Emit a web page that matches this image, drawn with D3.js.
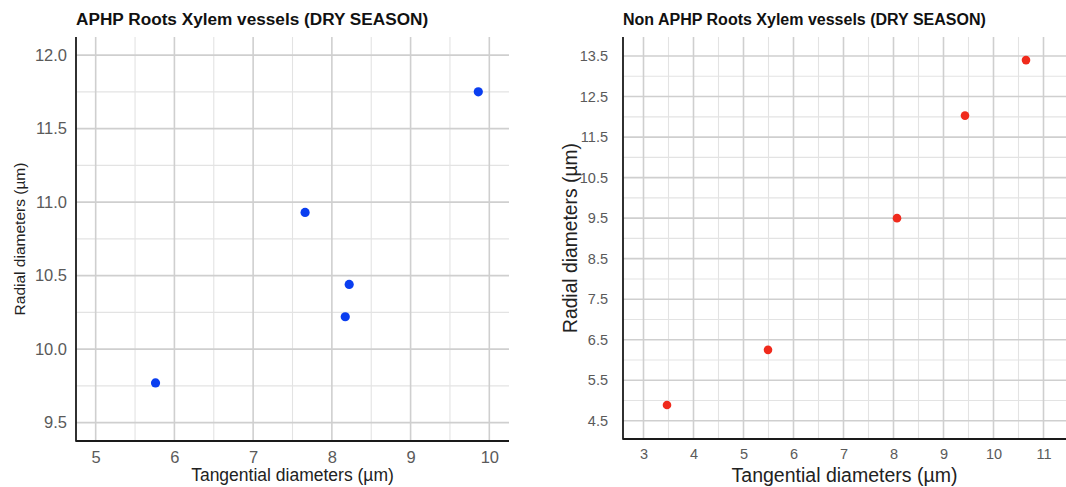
<!DOCTYPE html>
<html lang="en">
<head>
<meta charset="utf-8">
<title>Roots Xylem vessels (DRY SEASON)</title>
<script src="https://d3js.org/d3.v7.min.js"></script>
<style>
  body{margin:0;background:#fff;font-family:"Liberation Sans",Arial,sans-serif;}
  .tick text{fill:#5a5a5a;}
</style>
</head>
<body>
<div id="chart"></div>
<script>
// APHP panel data (tangential, radial)
var aphpTangential = [5.76, 7.66, 8.22, 8.17, 9.86]
var aphpRadial     = [9.77, 10.93, 10.44, 10.22, 11.75]
var aphpXTicks = [5, 6, 7, 8, 9, 10]
var aphpYTicks = [9.5, 10.0, 10.5, 11.0, 11.5, 12.0]

// Non APHP panel data
var nonTangential = [3.47, 5.49, 8.07, 9.43, 10.65]
var nonRadial     = [4.89, 6.25, 9.50, 12.03, 13.40]
var nonXTicks = [3, 4, 5, 6, 7, 8, 9, 10, 11]
var nonYTicks = [4.5, 5.5, 6.5, 7.5, 8.5, 9.5, 10.5, 11.5, 12.5, 13.5]

var W = 1066, H = 487
var svg = d3.select("#chart").append("svg").attr("width", W).attr("height", H)

var panels = [
  {title:"APHP Roots Xylem vessels (DRY SEASON)", xs:aphpTangential, ys:aphpRadial,
   xTicks:aphpXTicks, yTicks:aphpYTicks, xDom:[4.75,10.25], yDom:[9.375,12.123],
   left:76, right:509, top:37, bottom:441, color:"#0a3ef0", r:4.6,
   tickSize:16.5, yPad:9, xLabSize:17.5, yLabSize:15.5, titleSize:17.2,
   xMinor:0.5, yMinor:0.25, yLabX:20, xLabY:481},
  {title:"Non APHP Roots Xylem vessels (DRY SEASON)", xs:nonTangential, ys:nonRadial,
   xTicks:nonXTicks, yTicks:nonYTicks, xDom:[2.59,11.45], yDom:[4.05,13.97],
   left:623, right:1066, top:37, bottom:439, color:"#f02a1c", r:4.3,
   tickSize:14.5, yPad:15, xLabSize:19.5, yLabSize:19.3, titleSize:16,
   xMinor:0.5, yMinor:0.5, yLabX:570, xLabY:482}
]

panels.forEach(function(p){
  var x = d3.scaleLinear().domain(p.xDom).range([p.left, p.right])
  var y = d3.scaleLinear().domain(p.yDom).range([p.bottom, p.top])
  var g = svg.append("g")

  //minor grid lines (half way between the labelled ones)
  var xMinor = d3.range(Math.ceil(p.xDom[0]/p.xMinor)*p.xMinor, p.xDom[1], p.xMinor)
      .filter(function(v){ return p.xTicks.indexOf(+v.toFixed(2)) == -1 })
  var yMinor = d3.range(Math.ceil(p.yDom[0]/p.yMinor)*p.yMinor, p.yDom[1], p.yMinor)
      .filter(function(v){ return p.yTicks.indexOf(+v.toFixed(2)) == -1 })

  g.selectAll(".xminor").data(xMinor).enter().append("line")
    .attr("x1", function(d){ return x(d) }).attr("x2", function(d){ return x(d) })
    .attr("y1", p.top).attr("y2", p.bottom)
    .attr("stroke", "#e3e3e3").attr("stroke-width", 1.1)
  g.selectAll(".yminor").data(yMinor).enter().append("line")
    .attr("y1", function(d){ return y(d) }).attr("y2", function(d){ return y(d) })
    .attr("x1", p.left).attr("x2", p.right)
    .attr("stroke", "#e3e3e3").attr("stroke-width", 1.1)

  //major grid
  g.selectAll(".xmajor").data(p.xTicks).enter().append("line")
    .attr("x1", function(d){ return x(d) }).attr("x2", function(d){ return x(d) })
    .attr("y1", p.top).attr("y2", p.bottom)
    .attr("stroke", "#cfcfcf").attr("stroke-width", 1.6)
  g.selectAll(".ymajor").data(p.yTicks).enter().append("line")
    .attr("y1", function(d){ return y(d) }).attr("y2", function(d){ return y(d) })
    .attr("x1", p.left).attr("x2", p.right)
    .attr("stroke", "#cfcfcf").attr("stroke-width", 1.6)

  //axes
  var xAxis = d3.axisBottom(x).tickValues(p.xTicks).tickSize(0).tickPadding(10).tickFormat(d3.format("d"))
  var yAxis = d3.axisLeft(y).tickValues(p.yTicks).tickSize(0).tickPadding(p.yPad).tickFormat(d3.format(".1f"))

  var gx = g.append("g").attr("transform", "translate(0," + p.bottom + ")").call(xAxis)
  gx.select(".domain").remove()
  gx.selectAll("text").attr("font-size", p.tickSize).attr("font-family", "Liberation Sans, Arial, sans-serif")

  var gy = g.append("g").attr("transform", "translate(" + p.left + ",0)").call(yAxis)
  gy.select(".domain").remove()
  gy.selectAll("text").attr("font-size", p.tickSize).attr("font-family", "Liberation Sans, Arial, sans-serif")

  g.append("line").attr("x1", p.left).attr("x2", p.left).attr("y1", p.top).attr("y2", p.bottom + 0.8)
    .attr("stroke", "#1a1a1a").attr("stroke-width", 1.8)
  g.append("line").attr("x1", p.left).attr("x2", p.right).attr("y1", p.bottom).attr("y2", p.bottom)
    .attr("stroke", "#1a1a1a").attr("stroke-width", 1.8)

  //points
  g.selectAll("circle").data(p.xs).enter().append("circle")
    .attr("cx", function(d){ return x(d) })
    .attr("cy", function(d, i){ return y(p.ys[i]) })
    .attr("r", p.r)
    .attr("fill", p.color)

  //labels
  g.append("text").text(p.title)
    .attr("x", p.left).attr("y", 25)
    .attr("font-size", p.titleSize).attr("font-weight", "bold").attr("fill", "#111")

  g.append("text").text("Tangential diameters (µm)")
    .attr("x", (p.left + p.right) / 2).attr("y", p.xLabY)
    .attr("text-anchor", "middle").attr("font-size", p.xLabSize).attr("fill", "#222")

  g.append("text").text("Radial diameters (µm)")
    .attr("transform", "translate(" + p.yLabX + "," + ((p.top + p.bottom) / 2) + ") rotate(-90)")
    .attr("text-anchor", "middle").attr("dy", "0.35em")
    .attr("font-size", p.yLabSize).attr("fill", "#222")
})
</script>
</body>
</html>
